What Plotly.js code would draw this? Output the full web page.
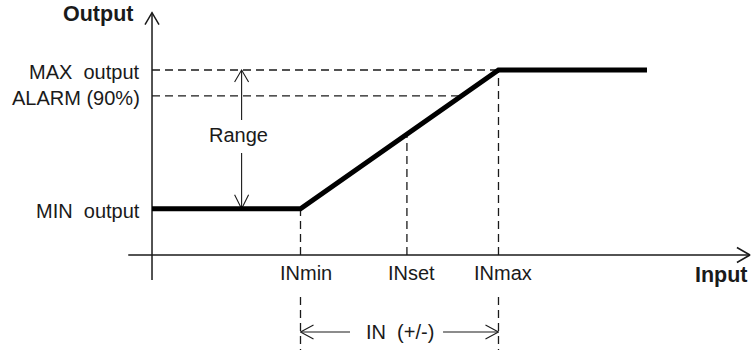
<!DOCTYPE html>
<html>
<head>
<meta charset="utf-8">
<script src="https://cdn.plot.ly/plotly-3.0.1.min.js"></script>
<style>html,body{margin:0;padding:0;background:#fff;}#chart{width:754px;height:350px;}</style>
</head>
<body>
<div id="chart"></div>
<script>
// ---- data ----
const inputTickLabels = ['INmin', 'INset', 'INmax'];
const inputTickValues = [3, 5.15, 7];
const outputTickLabels = ['MAX  output', 'ALARM (90%)', 'MIN  output'];
const outputTickValues = [100, 86, 25];
const curveX = [0, 3, 7, 10];
const curveY = [25, 25, 100, 100];
const xAxisSpan = [-0.48, 12.08];
const yAxisSpan = [-13.5, 131];
const rangeArrowX = 1.81;
const rangeUpShaft = [73, 100];
const rangeDownShaft = [55.1, 25];
const rangeLabelY = 64.9;
const inArrowY = -41.6;
const inArrowLeft = [3, 4.0];
const inArrowRight = [5.88, 7];
const lowerDashTop = -22.7;

// ---- scales ----
const W = 754, H = 350;
const X_RANGE = [-3.071, 12.162];
const Y_RANGE = [-51.35, 137.84];
const PX_X = W / (X_RANGE[1] - X_RANGE[0]);
const PX_Y = H / (Y_RANGE[1] - Y_RANGE[0]);

const INK = '#1a1a1a';
const FONT = 'Liberation Sans, Arial, sans-serif';
const FS = 20;
const FS_BOLD = 21.5;
const DASH = '8px,5px';

const traces = [];
function seg(xs, ys, width, dash) {
  traces.push({x: xs, y: ys, mode: 'lines', type: 'scatter', hoverinfo: 'skip',
    line: {color: INK, width: width, dash: dash || 'solid'}});
}
// chevron arrow head: tip at (tx,ty), direction (dx,dy) in pixel space (y up)
function chevron(tx, ty, dx, dy, lenPx, halfPx, width) {
  const n = Math.hypot(dx, dy); dx /= n; dy /= n;
  const px = -dy, py = dx;
  const a = [tx + (-dx * lenPx + px * halfPx) / PX_X, ty + (-dy * lenPx + py * halfPx) / PX_Y];
  const b = [tx + (-dx * lenPx - px * halfPx) / PX_X, ty + (-dy * lenPx - py * halfPx) / PX_Y];
  seg([a[0], tx, b[0]], [a[1], ty, b[1]], width);
}

const MIN = outputTickValues[2], ALARM = outputTickValues[1], MAX = outputTickValues[0];
const INMIN = inputTickValues[0], INSET = inputTickValues[1], INMAX = inputTickValues[2];
function curveAtX(x) { return MIN + (x - INMIN) / (INMAX - INMIN) * (MAX - MIN); }
function curveAtY(y) { return INMIN + (y - MIN) / (MAX - MIN) * (INMAX - INMIN); }

// axes
seg([0, 0], yAxisSpan, 1.5);
chevron(0, yAxisSpan[1], 0, 1, 12, 7, 1.5);
seg(xAxisSpan, [0, 0], 1.5);
chevron(xAxisSpan[1], 0, 1, 0, 13, 7.5, 1.5);

// dashed guides
seg([0, INMAX], [MAX, MAX], 1.3, DASH);
seg([0, curveAtY(ALARM)], [ALARM, ALARM], 1.3, DASH);
seg([INMIN, INMIN], [0, MIN], 1.3, DASH);
seg([INSET, INSET], [0, curveAtX(INSET)], 1.3, DASH);
seg([INMAX, INMAX], [0, MAX], 1.3, DASH);
seg([INMIN, INMIN], [lowerDashTop, Y_RANGE[0]], 1.3, DASH);
seg([INMAX, INMAX], [lowerDashTop, Y_RANGE[0]], 1.3, DASH);

// range arrows
seg([rangeArrowX, rangeArrowX], rangeUpShaft, 1.1);
chevron(rangeArrowX, rangeUpShaft[1], 0, 1, 12, 7, 1.1);
seg([rangeArrowX, rangeArrowX], rangeDownShaft, 1.1);
chevron(rangeArrowX, rangeDownShaft[1], 0, -1, 14, 7, 1.1);

// IN arrows
seg(inArrowLeft, [inArrowY, inArrowY], 1.1);
chevron(inArrowLeft[0], inArrowY, -1, 0, 13, 7, 1.1);
seg(inArrowRight, [inArrowY, inArrowY], 1.1);
chevron(inArrowRight[1], inArrowY, 1, 0, 13, 7, 1.1);

// main characteristic
traces.push({x: curveX, y: curveY, mode: 'lines', type: 'scatter', hoverinfo: 'skip',
  line: {color: '#000', width: 5}});

const ann = [];
function label(text, x, y, xanchor, opts) {
  ann.push(Object.assign({text: text, x: x, y: y, xref: 'x', yref: 'y', showarrow: false,
    xanchor: xanchor, yanchor: 'middle', font: {family: FONT, size: FS, color: INK}}, opts || {}));
}
const boldFont = {family: FONT, size: FS_BOLD, color: INK};
label('<b>Output</b>', -0.343, 130.3, 'right', {font: boldFont});
label('<b>Input</b>', xAxisSpan[1], -10.8, 'right', {font: boldFont});
inputTickLabels.forEach((t, i) => label(t, inputTickValues[i], -9.7, 'center', {xshift: 5}));
outputTickLabels.forEach((t, i) => label(t, -0.2, outputTickValues[i], 'right', {yshift: -2}));
label('Range', rangeArrowX, rangeLabelY, 'center', {xshift: -3});
label('IN  (+/-)', (INMIN + INMAX) / 2, inArrowY, 'center');

const layout = {
  width: W, height: H,
  margin: {l: 0, r: 0, t: 0, b: 0},
  paper_bgcolor: '#fff', plot_bgcolor: '#fff',
  showlegend: false,
  xaxis: {range: X_RANGE, visible: false, fixedrange: true},
  yaxis: {range: Y_RANGE, visible: false, fixedrange: true},
  annotations: ann
};
Plotly.newPlot('chart', traces, layout, {staticPlot: true, displayModeBar: false});
</script>
</body>
</html>
